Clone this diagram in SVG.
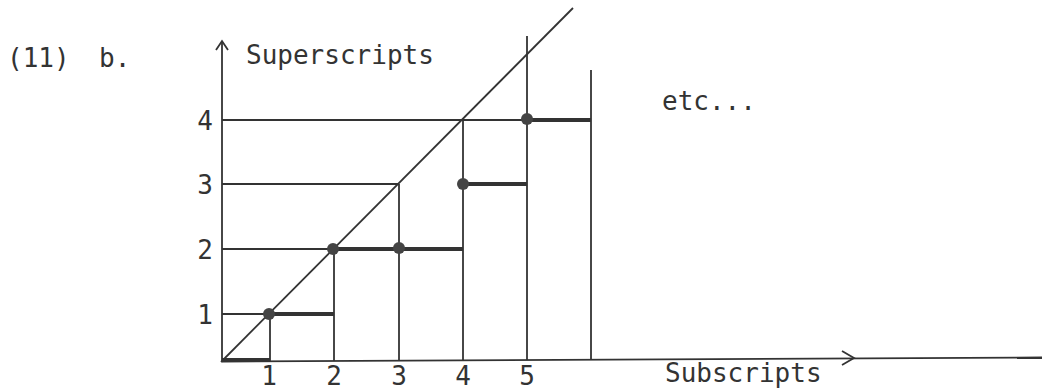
<svg xmlns="http://www.w3.org/2000/svg" width="1042" height="389" viewBox="0 0 1042 389">
<style>
.t{font-family:"DejaVu Sans Mono","Liberation Mono",monospace;font-size:26px;fill:#333}
.n{font-family:"DejaVu Sans Mono","Liberation Mono",monospace;font-size:26px;fill:#333;text-anchor:middle}
.thin{stroke:#333;stroke-width:1.8;fill:none}
.thick{stroke:#333;stroke-width:4;fill:none}
.dot{fill:#444}
</style>
<rect width="1042" height="389" fill="#fff"/>
<g id="labels">
<text class="t" x="7" y="67">(11)</text>
<text class="t" x="99" y="67">b.</text>
<text class="t" x="246" y="64">Superscripts</text>
<text class="t" x="662" y="110">etc...</text>
<text class="t" x="665" y="382">Subscripts</text>
<text class="n" x="205" y="130">4</text>
<text class="n" x="205" y="194">3</text>
<text class="n" x="205" y="259">2</text>
<text class="n" x="205" y="324">1</text>
<text class="n" x="269" y="385">1</text>
<text class="n" x="334" y="385">2</text>
<text class="n" x="399" y="385">3</text>
<text class="n" x="463" y="385">4</text>
<text class="n" x="527" y="385">5</text>
</g>
<g id="axes">
<line class="thin" x1="222" y1="41" x2="222" y2="362"/>
<polyline class="thin" points="216,50 222,41 228,50"/>
<line class="thin" x1="222" y1="361.5" x2="1042" y2="357.5"/>
<polyline class="thin" points="842,351 854,358 842,365"/>
</g>
<g id="grid">
<line class="thin" x1="222" y1="120" x2="527" y2="120"/>
<line class="thin" x1="222" y1="184" x2="399" y2="184"/>
<line class="thin" x1="222" y1="249" x2="334" y2="249"/>
<line class="thin" x1="222" y1="314" x2="269" y2="314"/>
<line class="thin" x1="270" y1="314" x2="270" y2="361"/>
<line class="thin" x1="334" y1="249" x2="334" y2="361"/>
<line class="thin" x1="399" y1="184" x2="399" y2="361"/>
<line class="thin" x1="463" y1="120" x2="463" y2="361"/>
<line class="thin" x1="527" y1="36" x2="527" y2="360"/>
<line class="thin" x1="591" y1="70" x2="591" y2="360"/>
<line class="thin" x1="221" y1="362" x2="573" y2="8"/>
</g>
<g id="steps">
<line class="thick" x1="222" y1="360" x2="270" y2="360"/>
<line class="thick" x1="269" y1="314" x2="334" y2="314"/>
<line class="thick" x1="334" y1="249" x2="463" y2="249"/>
<line class="thick" x1="463" y1="184" x2="527" y2="184"/>
<line class="thick" x1="527" y1="120" x2="591" y2="120"/>
</g>
<g id="dots">
<circle class="dot" cx="269" cy="314" r="6"/>
<circle class="dot" cx="333" cy="249" r="6"/>
<circle class="dot" cx="399" cy="248" r="6"/>
<circle class="dot" cx="463" cy="184" r="6"/>
<circle class="dot" cx="527" cy="119" r="6"/>
</g>
</svg>
